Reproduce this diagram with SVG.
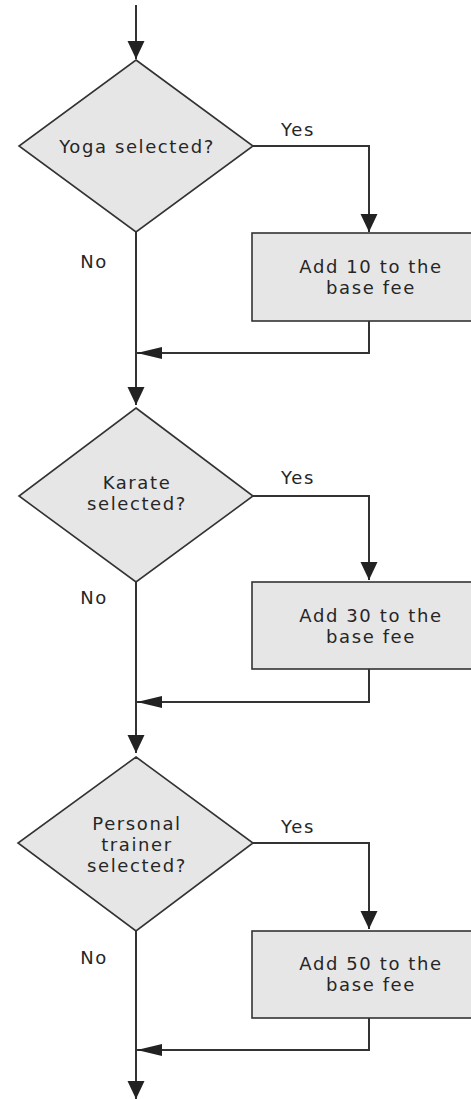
<svg xmlns="http://www.w3.org/2000/svg" width="471" height="1099" viewBox="0 0 471 1099">
  <style>
    .shape { fill: #e6e6e6; stroke: #333333; stroke-width: 1.6; }
    .wire { fill: none; stroke: #333333; stroke-width: 2; }
    .label { font-family: "DejaVu Sans", "Liberation Sans", sans-serif; font-size: 18px; fill: #262626; letter-spacing: 1.6px; text-anchor: middle; }
  </style>
  <defs>
    <marker id="down" markerUnits="userSpaceOnUse" markerWidth="18" markerHeight="18" refX="18" refY="8.5" orient="auto">
      <path d="M0,0 L18,8.5 L0,17 z" fill="#222222"/>
    </marker>
    <marker id="merge" markerUnits="userSpaceOnUse" markerWidth="25" markerHeight="12" refX="25" refY="6" orient="auto">
      <path d="M0,0 L25,6 L0,12 z" fill="#222222"/>
    </marker>
  </defs>

  <!-- decision: yoga -->
  <g id="yoga-decision">
    <polygon class="shape" points="136,60 253,146 136,232 19,146"/>
    <text class="label" x="137" y="153">Yoga selected?</text>
  </g>
  <g id="yoga-action">
    <rect class="shape" x="252" y="233" width="240" height="88"/>
    <text class="label" x="371" y="273">Add 10 to the</text>
    <text class="label" x="371" y="294">base fee</text>
  </g>

  <!-- decision: karate -->
  <g id="karate-decision">
    <polygon class="shape" points="136,408 253,496 136,582 19,496"/>
    <text class="label" x="137" y="489">Karate</text>
    <text class="label" x="137" y="510">selected?</text>
  </g>
  <g id="karate-action">
    <rect class="shape" x="252" y="582" width="240" height="87"/>
    <text class="label" x="371" y="622">Add 30 to the</text>
    <text class="label" x="371" y="643">base fee</text>
  </g>

  <!-- decision: personal trainer -->
  <g id="trainer-decision">
    <polygon class="shape" points="136,757 253,843 136,931 18,843"/>
    <text class="label" x="137" y="830">Personal</text>
    <text class="label" x="137" y="851">trainer</text>
    <text class="label" x="137" y="872">selected?</text>
  </g>
  <g id="trainer-action">
    <rect class="shape" x="252" y="931" width="240" height="87"/>
    <text class="label" x="371" y="970">Add 50 to the</text>
    <text class="label" x="371" y="991">base fee</text>
  </g>

  <!-- connectors -->
  <g id="connectors">
    <line class="wire" x1="136" y1="5" x2="136" y2="59" marker-end="url(#down)"/>
    <polyline class="wire" points="253,146 369,146 369,232" marker-end="url(#down)"/>
    <line class="wire" x1="136" y1="232" x2="136" y2="405" marker-end="url(#down)"/>
    <polyline class="wire" points="369,321 369,353 137,353" marker-end="url(#merge)"/>

    <polyline class="wire" points="253,496 369,496 369,580" marker-end="url(#down)"/>
    <line class="wire" x1="136" y1="582" x2="136" y2="753" marker-end="url(#down)"/>
    <polyline class="wire" points="369,669 369,702 137,702" marker-end="url(#merge)"/>

    <polyline class="wire" points="253,843 369,843 369,929" marker-end="url(#down)"/>
    <line class="wire" x1="136" y1="931" x2="136" y2="1099" marker-end="url(#down)"/>
    <polyline class="wire" points="369,1018 369,1050 137,1050" marker-end="url(#merge)"/>
  </g>

  <!-- branch labels -->
  <g id="branch-labels">
    <text class="label" x="298" y="136">Yes</text>
    <text class="label" x="94" y="268">No</text>
    <text class="label" x="298" y="484">Yes</text>
    <text class="label" x="94" y="604">No</text>
    <text class="label" x="298" y="833">Yes</text>
    <text class="label" x="94" y="964">No</text>
  </g>
</svg>
